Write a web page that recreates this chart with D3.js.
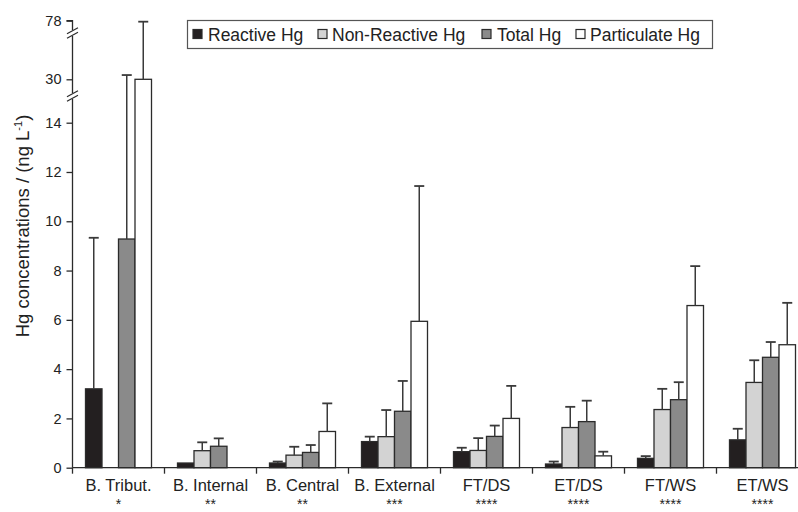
<!DOCTYPE html>
<html>
<head>
<meta charset="utf-8">
<script src="https://cdn.jsdelivr.net/npm/d3@7"></script>
<style>
  html, body { margin: 0; padding: 0; background: #fff; }
  svg { display: block; }
  text { font-family: "Liberation Sans", Arial, sans-serif; fill: #222; }
</style>
</head>
<body>
<svg id="chart" width="798" height="512"></svg>
<script>
// ---- data ----
const categories = ["B. Tribut.", "B. Internal", "B. Central", "B. External", "FT/DS", "ET/DS", "FT/WS", "ET/WS"];
const stars = ["*", "**", "**", "***", "****", "****", "****", "****"];
const seriesNames = ["Reactive Hg", "Non-Reactive Hg", "Total Hg", "Particulate Hg"];
const reactive      = [3.2, 0.19, 0.19, 1.06, 0.65, 0.15, 0.38, 1.13];
const reactiveSD    = [6.13, 0, 0.06, 0.2, 0.16, 0.1, 0.09, 0.45];
const nonReactive   = [null, 0.69, 0.51, 1.26, 0.70, 1.63, 2.36, 3.46];
const nonReactiveSD = [null, 0.34, 0.34, 1.08, 0.5, 0.84, 0.84, 0.9];
const total         = [9.28, 0.87, 0.62, 2.29, 1.27, 1.87, 2.76, 4.48];
const totalSD       = [24.2, 0.32, 0.3, 1.23, 0.44, 0.85, 0.71, 0.62];
const particulate   = [30, null, 1.47, 5.94, 2.0, 0.48, 6.58, 4.99];
const particulateSD = [47.2, null, 1.14, 5.49, 1.32, 0.17, 1.6, 1.7];
const yTicks = [0, 2, 4, 6, 8, 10, 12, 14, 30, 78];
const colors = ["#231f20", "#d3d3d3", "#8a8a8a", "#ffffff"];

const seriesVals = [reactive, nonReactive, total, particulate];
const seriesSD = [reactiveSD, nonReactiveSD, totalSD, particulateSD];

const svg = d3.select("#chart");

// broken (piecewise) y scale
const y = d3.scaleLinear().domain([0, 14, 30, 78]).range([467.7, 122.7, 79.3, 20.7]);
const x0 = d3.scaleBand().domain(categories).range([72.5, 808.5]).padding(0);
const x1 = d3.scaleBand().domain(seriesNames).range([13, 79]).padding(0);

const ink = "#2b2b2b";

// bars
const data = [];
categories.forEach((c, i) => {
  seriesNames.forEach((s, j) => {
    const v = seriesVals[j][i];
    if (v !== null && v !== undefined) data.push({c, s, j, v, sd: seriesSD[j][i]});
  });
});

const g = svg.append("g");
g.selectAll("rect.bar").data(data).enter().append("rect")
  .attr("class", "bar")
  .attr("x", d => x0(d.c) + x1(d.s))
  .attr("width", x1.bandwidth())
  .attr("y", d => y(d.v))
  .attr("height", d => y(0) - y(d.v))
  .attr("fill", d => colors[d.j])
  .attr("stroke", ink)
  .attr("stroke-width", 1.3);

// error bars
const eb = data.filter(d => d.sd > 0);
g.selectAll("line.err").data(eb).enter().append("line")
  .attr("x1", d => x0(d.c) + x1(d.s) + x1.bandwidth() / 2)
  .attr("x2", d => x0(d.c) + x1(d.s) + x1.bandwidth() / 2)
  .attr("y1", d => y(d.v))
  .attr("y2", d => y(d.v + d.sd))
  .attr("stroke", "#3a3a3a").attr("stroke-width", 1.5);
g.selectAll("line.cap").data(eb).enter().append("line")
  .attr("x1", d => x0(d.c) + x1(d.s) + x1.bandwidth() / 2 - 5)
  .attr("x2", d => x0(d.c) + x1(d.s) + x1.bandwidth() / 2 + 5)
  .attr("y1", d => y(d.v + d.sd))
  .attr("y2", d => y(d.v + d.sd))
  .attr("stroke", "#3a3a3a").attr("stroke-width", 1.8);

// y axis
const yAxis = d3.axisLeft(y).tickValues(yTicks).tickSize(6).tickPadding(5).tickFormat(d3.format("d"));
const ya = svg.append("g").attr("transform", "translate(72.5,0)").call(yAxis);
ya.select(".domain").attr("stroke", ink).attr("stroke-width", 1.3).attr("d", `M-6,${y(78)}H0V${y(0)}`);
ya.selectAll(".tick line").attr("stroke", ink).attr("stroke-width", 1.3);
ya.selectAll(".tick text").style("font-size", "14.5px").attr("fill", "#222")
  .style("font-family", '"Liberation Sans", Arial, sans-serif');

// axis breaks
[33, 96].forEach(by => {
  svg.append("rect").attr("x", 66).attr("y", by - 3).attr("width", 13).attr("height", 6).attr("fill", "#fff");
  [-2.2, 2.2].forEach(o => {
    svg.append("line").attr("x1", 67).attr("x2", 78)
      .attr("y1", by + o + 3).attr("y2", by + o - 3)
      .attr("stroke", ink).attr("stroke-width", 1.2);
  });
});

// x axis
svg.append("line").attr("x1", 72.5).attr("x2", 808.5).attr("y1", y(0)).attr("y2", y(0))
  .attr("stroke", ink).attr("stroke-width", 1.3);
const bounds = categories.map(c => x0(c));
svg.selectAll("line.xt").data(bounds).enter().append("line")
  .attr("x1", d => d).attr("x2", d => d)
  .attr("y1", y(0)).attr("y2", y(0) + 6)
  .attr("stroke", ink).attr("stroke-width", 1.3);

// category labels and significance stars
svg.selectAll("text.xl").data(categories).enter().append("text")
  .attr("class", "xl")
  .attr("x", d => x0(d) + x0.bandwidth() / 2)
  .attr("y", 491)
  .attr("text-anchor", "middle")
  .style("font-size", "16.5px")
  .text(d => d);
svg.selectAll("text.st").data(categories).enter().append("text")
  .attr("class", "st")
  .attr("x", d => x0(d) + x0.bandwidth() / 2)
  .attr("y", 508.5)
  .attr("text-anchor", "middle")
  .style("font-size", "14px")
  .text((d, i) => stars[i]);

// y title
const yt = svg.append("text")
  .attr("transform", "translate(29,226) rotate(-90)")
  .attr("text-anchor", "middle")
  .style("font-size", "18.5px");
yt.append("tspan").text("Hg concentrations / (ng L");
yt.append("tspan").attr("dy", -7).style("font-size", "11px").text("-1");
yt.append("tspan").attr("dy", 7).text(")");

// legend
svg.append("rect").attr("x", 187.5).attr("y", 20.5).attr("width", 525).attr("height", 28)
  .attr("fill", "#fff").attr("stroke", "#555").attr("stroke-width", 1.2);
const legSwX = [193, 318, 482, 576];
const legTxX = [208, 332, 497, 590];
seriesNames.forEach((s, j) => {
  svg.append("rect").attr("x", legSwX[j]).attr("y", 29.5).attr("width", 9).attr("height", 9)
    .attr("fill", colors[j]).attr("stroke", ink).attr("stroke-width", 1.2);
  svg.append("text").attr("x", legTxX[j]).attr("y", 40.5).style("font-size", "17.5px").text(s);
});
</script>
</body>
</html>
